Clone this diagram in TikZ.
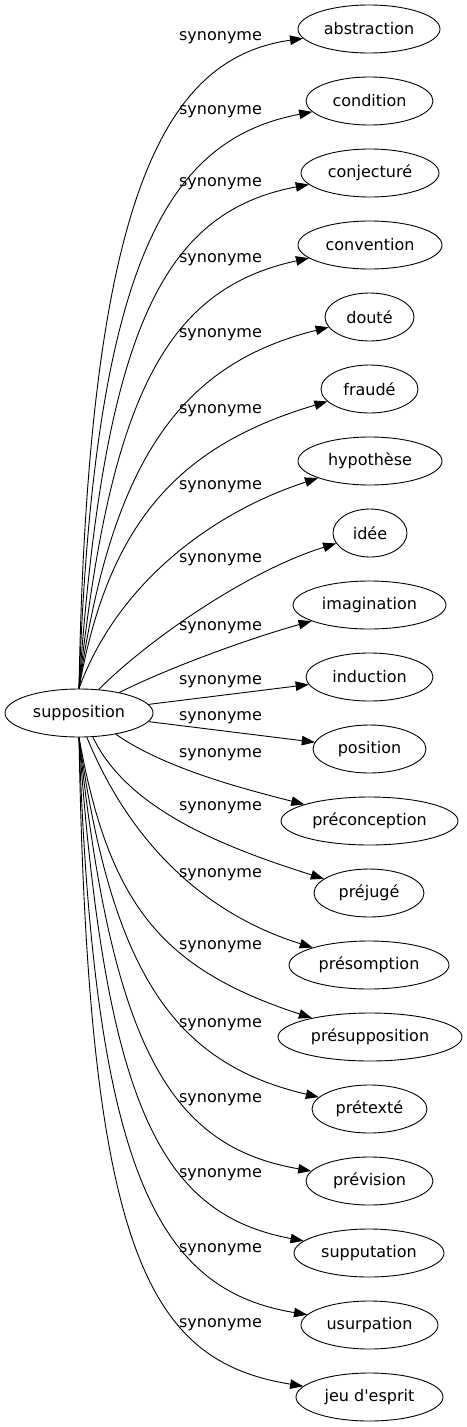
\documentclass[tikz,border=0pt]{standalone}
\usepackage{fontspec}
\setmainfont{DejaVu Sans}
\newfontfamily\plainfont{DejaVu Sans}
\usetikzlibrary{shapes.geometric,arrows.meta}
\begin{document}
\begin{tikzpicture}[x=1pt,y=-1pt,
  every node/.style={font=\plainfont\fontsize{16}{19}\selectfont},
  word/.style={ellipse,draw,line width=0.9pt,inner sep=0pt,minimum height=48pt},
  lab/.style={inner sep=0pt,anchor=center},
  edge/.style={line width=0.9pt,-{Triangle[length=13pt,width=9.5pt]}}]
\useasboundingbox (0,0) rectangle (466,1427);
\node[word,minimum width=148pt] (src) at (79,713) {supposition};
\node[word,minimum width=142pt] (t0) at (369,29) {abstraction};
\node[word,minimum width=127pt] (t1) at (369.5,101) {condition};
\node[word,minimum width=138pt] (t2) at (370,173) {conjecturé};
\node[word,minimum width=144pt] (t3) at (370,245) {convention};
\node[word,minimum width=89pt] (t4) at (369.5,317) {douté};
\node[word,minimum width=97pt] (t5) at (369.5,389) {fraudé};
\node[word,minimum width=144pt] (t6) at (370,461) {hypothèse};
\node[word,minimum width=74pt] (t7) at (370,533) {idée};
\node[word,minimum width=153pt] (t8) at (369.5,605) {imagination};
\node[word,minimum width=127pt] (t9) at (369.5,677) {induction};
\node[word,minimum width=113pt] (t10) at (369.5,749) {position};
\node[word,minimum width=177pt] (t11) at (369.5,821) {préconception};
\node[word,minimum width=110pt] (t12) at (369,893) {préjugé};
\node[word,minimum width=160pt] (t13) at (369,965) {présomption};
\node[word,minimum width=184pt] (t14) at (370,1037) {présupposition};
\node[word,minimum width=115pt] (t15) at (369.5,1109) {prétexté};
\node[word,minimum width=127pt] (t16) at (369.5,1181) {prévision};
\node[word,minimum width=150pt] (t17) at (369,1253) {supputation};
\node[word,minimum width=137pt] (t18) at (369.5,1325) {usurpation};
\node[word,minimum width=147pt] (t19) at (369.5,1397) {jeu d'esprit};
\node[lab] (l0) at (220.5,38) {synonyme};
\node[lab] (l1) at (220.5,112) {synonyme};
\node[lab] (l2) at (220.5,184) {synonyme};
\node[lab] (l3) at (220.5,260) {synonyme};
\node[lab] (l4) at (220.5,335) {synonyme};
\node[lab] (l5) at (220.5,411) {synonyme};
\node[lab] (l6) at (220.5,487) {synonyme};
\node[lab] (l7) at (220.5,560) {synonyme};
\node[lab] (l8) at (220.5,628) {synonyme};
\node[lab] (l9) at (220.5,682) {synonyme};
\node[lab] (l10) at (220.5,718) {synonyme};
\node[lab] (l11) at (220.5,755) {synonyme};
\node[lab] (l12) at (220.5,808) {synonyme};
\node[lab] (l13) at (220.5,875) {synonyme};
\node[lab] (l14) at (220.5,947) {synonyme};
\node[lab] (l15) at (220.5,1025) {synonyme};
\node[lab] (l16) at (220.5,1100) {synonyme};
\node[lab] (l17) at (220.5,1175) {synonyme};
\node[lab] (l18) at (220.5,1250) {synonyme};
\node[lab] (l19) at (220.5,1325) {synonyme};
\draw[edge] (src.north) .. controls (88,193) and (165,58) .. (t0);
\draw[edge] (src.north) .. controls (94,258) and (169,139) .. (t1);
\draw[edge] (src.north) .. controls (104,329) and (163,212) .. (t2);
\draw[edge] (src.north) .. controls (110,396) and (166,289) .. (t3);
\draw[edge] (src.north) .. controls (112,454) and (185,363) .. (t4);
\draw[edge] (src.north) .. controls (109,517) and (184,444) .. (t5);
\draw[edge] (src.north) .. controls (115,589) and (205,515) .. (t6);
\draw[edge] (src.50) .. controls (147.5,640.5) and (247,571) .. (t7);
\draw[edge] (src.27) .. controls (172.5,666) and (252.6,637.5) .. (t8);
\draw[edge] (src) -- (t9);
\draw[edge] (src) -- (t10);
\draw[edge] (src.-30) .. controls (164,768) and (242,788.5) .. (t11);
\draw[edge] (src.-60) .. controls (127,809) and (223,847) .. (t12);
\draw[edge] (src.-72) .. controls (127.5,837) and (199.6,912.4) .. (t13);
\draw[edge] (src.south) .. controls (109,905) and (162,969) .. (t14);
\draw[edge] (src.south) .. controls (112,972) and (173,1063) .. (t15);
\draw[edge] (src.south) .. controls (112,1050) and (171.6,1147) .. (t16);
\draw[edge] (src.south) .. controls (105,1103) and (159,1214) .. (t17);
\draw[edge] (src.south) .. controls (94,1174) and (158,1290) .. (t18);
\draw[edge] (src.south) .. controls (88,1254) and (148,1361) .. (t19);
\end{tikzpicture}
\end{document}
